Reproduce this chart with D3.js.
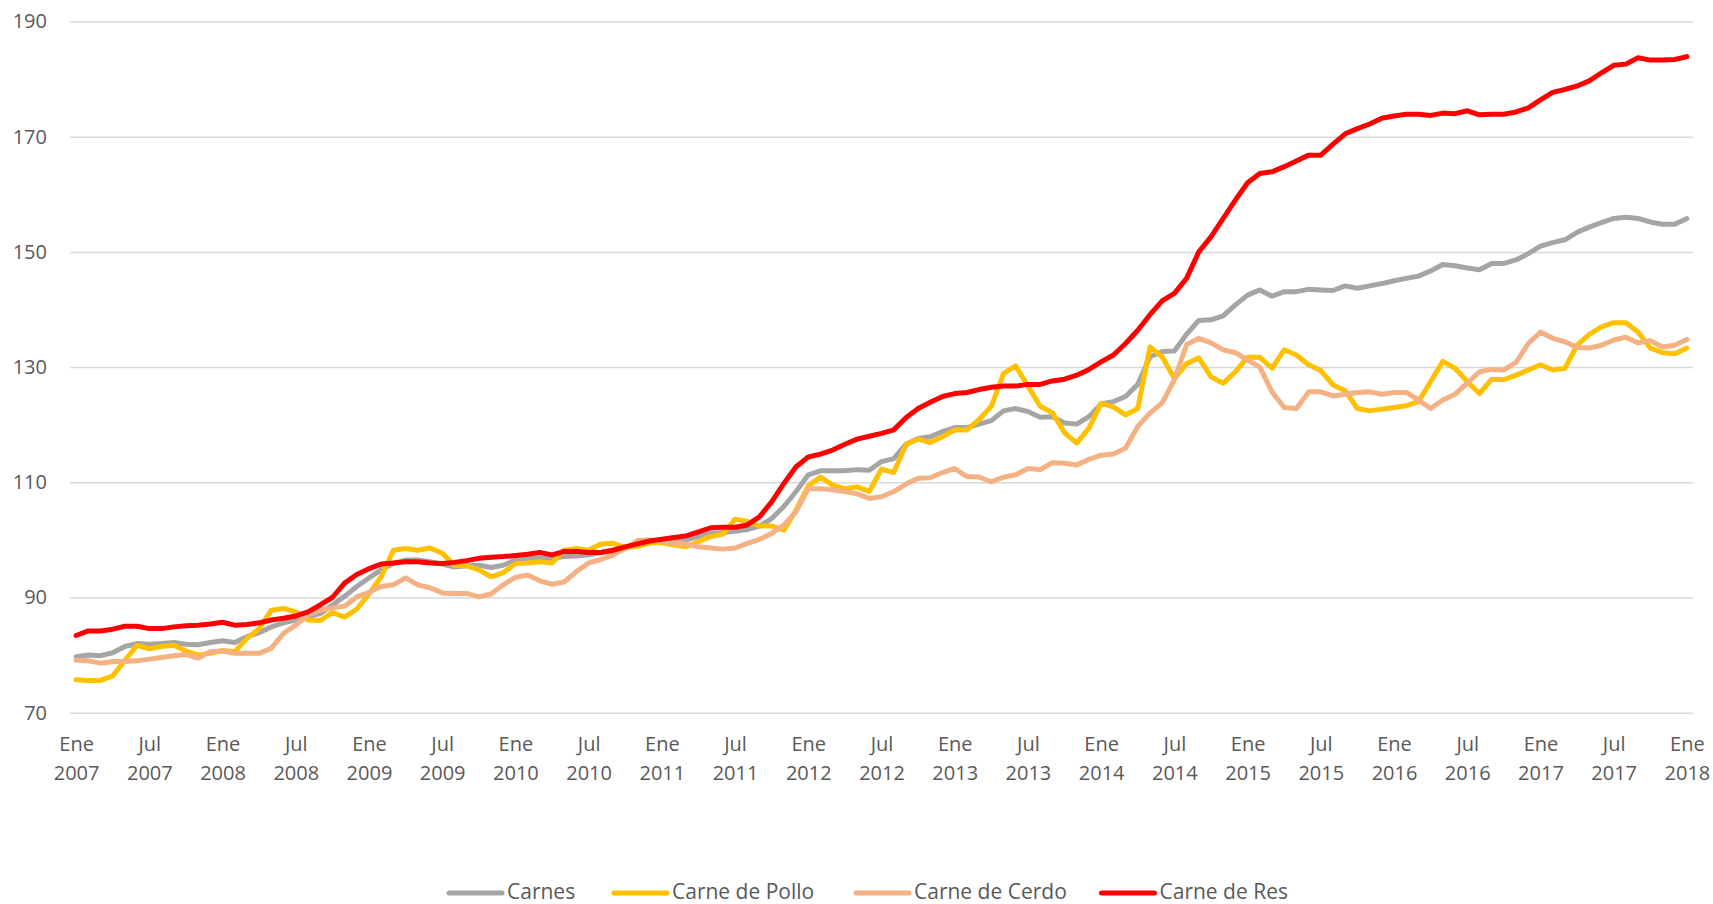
<!DOCTYPE html>
<html>
<head>
<meta charset="utf-8">
<script src="https://cdn.jsdelivr.net/npm/d3@7"></script>
<style>
  html, body { margin: 0; padding: 0; background: #fff; }
  svg { display: block; }
  text { font-family: "Open Sans", "Liberation Sans", sans-serif; fill: #595959; }
</style>
</head>
<body>
<svg id="chart" width="1713" height="904"></svg>
<script>
// Categories: monthly, Ene 2007 .. Ene 2018
const monthNames = ["Ene","Feb","Mar","Abr","May","Jun","Jul","Ago","Sep","Oct","Nov","Dic"];
const categories = [];
for (let y = 2007; y <= 2018; y++) {
  for (let m = 0; m < 12; m++) {
    if (y === 2018 && m > 0) break;
    categories.push(monthNames[m] + " " + y);
  }
}

const tickLabels = ["Ene 2007","Jul 2007","Ene 2008","Jul 2008","Ene 2009","Jul 2009","Ene 2010","Jul 2010",
  "Ene 2011","Jul 2011","Ene 2012","Jul 2012","Ene 2013","Jul 2013","Ene 2014","Jul 2014","Ene 2015",
  "Jul 2015","Ene 2016","Jul 2016","Ene 2017","Jul 2017","Ene 2018"];

const yTicks = [70, 90, 110, 130, 150, 170, 190];

const carnes = [79.7,80.0,79.9,80.4,81.5,82.0,81.9,82.0,82.2,81.9,81.8,82.2,
  82.5,82.2,83.2,83.9,84.9,85.6,86.1,86.7,87.2,88.7,90.2,91.9,
  93.4,94.8,95.9,96.5,96.5,96.2,95.8,95.3,95.5,95.6,95.2,95.6,
  96.5,96.8,96.8,96.8,97.1,97.2,97.4,97.8,98.2,98.7,99.1,99.5,
  99.7,99.7,100.0,100.6,101.1,101.3,101.5,101.8,102.4,103.7,105.8,108.4,
  111.3,112.0,112.0,112.0,112.2,112.1,113.6,114.1,116.6,117.6,117.9,118.8,
  119.5,119.5,120.1,120.7,122.4,122.8,122.3,121.3,121.4,120.3,120.1,121.4,
  123.6,124.0,124.9,127.0,131.8,132.7,132.8,135.7,138.1,138.2,138.9,140.8,
  142.5,143.4,142.3,143.1,143.1,143.5,143.4,143.3,144.1,143.7,144.1,144.5,
  145.0,145.4,145.8,146.7,147.8,147.6,147.2,146.9,148.0,148.0,148.6,149.7,
  151.0,151.6,152.1,153.4,154.3,155.1,155.8,156.0,155.8,155.2,154.8,154.8,
  155.8];

const pollo = [75.7,75.6,75.6,76.4,79.1,81.7,81.1,81.5,81.7,80.7,80.0,80.3,
  80.8,80.6,82.9,84.6,87.8,88.1,87.5,86.1,86.0,87.4,86.6,88.0,
  90.6,93.6,98.2,98.5,98.2,98.6,97.7,95.6,95.5,94.8,93.6,94.3,
  95.9,96.0,96.2,96.0,98.2,98.5,98.2,99.3,99.4,98.7,98.9,99.5,
  99.5,99.1,98.8,99.7,100.6,101.0,103.6,103.2,102.4,102.4,101.7,105.2,
  109.4,110.9,109.5,108.9,109.2,108.4,112.3,111.7,116.5,117.5,116.9,117.9,
  119.1,119.1,120.9,123.2,128.9,130.2,126.7,123.2,122.1,118.6,116.8,119.4,
  123.7,123.1,121.7,122.8,133.5,131.8,128.0,130.6,131.6,128.3,127.2,129.2,
  131.7,131.7,129.8,133.0,132.1,130.4,129.4,126.9,125.9,122.8,122.4,122.7,
  123.0,123.3,124.0,127.5,131.0,129.8,127.5,125.4,127.9,127.8,128.6,129.5,
  130.4,129.5,129.8,133.8,135.7,137.0,137.7,137.7,136.1,133.3,132.5,132.3,
  133.3];

const cerdo = [79.1,79.0,78.6,78.9,78.9,79.0,79.3,79.6,79.9,80.1,79.5,80.6,
  80.7,80.3,80.3,80.3,81.2,83.8,85.2,87.0,87.8,88.2,88.5,90.1,
  90.9,91.9,92.2,93.4,92.2,91.7,90.8,90.7,90.7,90.1,90.6,92.2,
  93.5,93.9,92.9,92.3,92.7,94.5,96.0,96.6,97.4,98.5,99.9,100.0,
  99.7,99.5,99.3,98.8,98.6,98.4,98.6,99.4,100.1,101.1,102.6,104.9,
  108.9,108.9,108.7,108.4,108.0,107.2,107.5,108.4,109.7,110.7,110.8,111.7,
  112.4,111.0,110.9,110.1,110.9,111.3,112.4,112.2,113.4,113.3,113.0,114.0,
  114.7,114.9,115.9,119.7,122.0,123.8,127.8,133.9,135.0,134.2,133.0,132.5,
  131.2,130.0,125.7,123.0,122.8,125.7,125.7,125.0,125.3,125.6,125.7,125.3,
  125.6,125.6,124.3,122.8,124.3,125.3,127.2,129.2,129.6,129.5,130.8,134.1,
  136.1,135.0,134.4,133.4,133.3,133.8,134.7,135.2,134.2,134.6,133.5,133.8,
  134.8];

const res = [83.4,84.2,84.2,84.5,85.0,85.0,84.6,84.6,84.9,85.1,85.2,85.4,
  85.7,85.2,85.3,85.6,86.1,86.4,86.8,87.5,88.7,90.0,92.5,94.0,
  95.0,95.8,96.0,96.2,96.2,96.0,95.9,96.1,96.4,96.8,97.0,97.1,
  97.3,97.5,97.8,97.4,98.0,98.0,97.8,97.8,98.2,98.8,99.3,99.8,
  100.1,100.4,100.7,101.4,102.1,102.2,102.2,102.6,104.0,106.6,109.8,112.7,
  114.4,114.9,115.6,116.6,117.5,118.0,118.5,119.1,121.2,122.8,123.9,124.9,
  125.4,125.6,126.1,126.5,126.7,126.7,127.0,127.0,127.6,127.9,128.6,129.6,
  130.9,132.1,134.1,136.4,139.1,141.5,142.8,145.4,150.0,152.6,155.8,159.0,
  162.0,163.6,163.9,164.8,165.8,166.8,166.8,168.7,170.5,171.4,172.2,173.2,
  173.6,173.9,173.9,173.7,174.1,174.0,174.5,173.8,173.9,173.9,174.3,175.0,
  176.4,177.7,178.2,178.8,179.7,181.1,182.4,182.6,183.7,183.3,183.3,183.4,
  183.9];

const seriesNames = ["Carnes", "Carne de Pollo", "Carne de Cerdo", "Carne de Res"];
const seriesColors = ["#a5a5a5", "#ffc000", "#f4b183", "#ff0000"];
const seriesValues = [carnes, pollo, cerdo, res];

const svg = d3.select("#chart");
const plotLeft = 70, plotRight = 1693, plotTop = 21.5, plotBottom = 712.7;

const x = d3.scalePoint().domain(categories).range([plotLeft, plotRight]).padding(0.5);
const y = d3.scaleLinear().domain([70, 190]).range([plotBottom, plotTop]);

// gridlines + y labels
const yAxis = d3.axisLeft(y).tickValues(yTicks).tickSize(-(plotRight - plotLeft)).tickPadding(23).tickFormat(d3.format("d"));
const gy = svg.append("g").attr("transform", `translate(${plotLeft},0)`).call(yAxis);
gy.select(".domain").remove();
gy.selectAll(".tick line").attr("stroke", "#d9d9d9").attr("stroke-width", 1.5);
gy.selectAll(".tick text").attr("font-size", 20).attr("fill", "#595959")
  .style("font-family", "'Open Sans', sans-serif");

// x labels
const xAxis = d3.axisBottom(x).tickValues(tickLabels).tickSize(0).tickFormat(() => "");
const gx = svg.append("g").attr("transform", `translate(0,${plotBottom})`).call(xAxis);
gx.select(".domain").remove();
gx.selectAll(".tick").each(function(d) {
  const parts = d.split(" ");
  const t = d3.select(this).append("text").attr("text-anchor", "middle").attr("font-size", 20).attr("fill", "#595959");
  t.append("tspan").attr("x", 0).attr("y", 38).text(parts[0]);
  t.append("tspan").attr("x", 0).attr("y", 67.3).text(parts[1]);
});

// lines
const line = d3.line().x((d, i) => x(categories[i])).y(d => y(d));
seriesValues.forEach((vals, k) => {
  svg.append("path").datum(vals)
    .attr("fill", "none")
    .attr("stroke", seriesColors[k])
    .attr("stroke-width", 5)
    .attr("stroke-linejoin", "round")
    .attr("stroke-linecap", "round")
    .attr("d", line);
});

// legend
const legendX = [449, 614, 856, 1101.5];
const legendY = 893;
const lg = svg.append("g");
seriesNames.forEach((name, k) => {
  lg.append("line")
    .attr("x1", legendX[k]).attr("x2", legendX[k] + 53)
    .attr("y1", legendY).attr("y2", legendY)
    .attr("stroke", seriesColors[k]).attr("stroke-width", 5).attr("stroke-linecap", "round");
  lg.append("text").attr("x", legendX[k] + 58).attr("y", legendY + 6)
    .attr("font-size", 21).attr("fill", "#595959").text(name);
});
</script>
</body>
</html>
